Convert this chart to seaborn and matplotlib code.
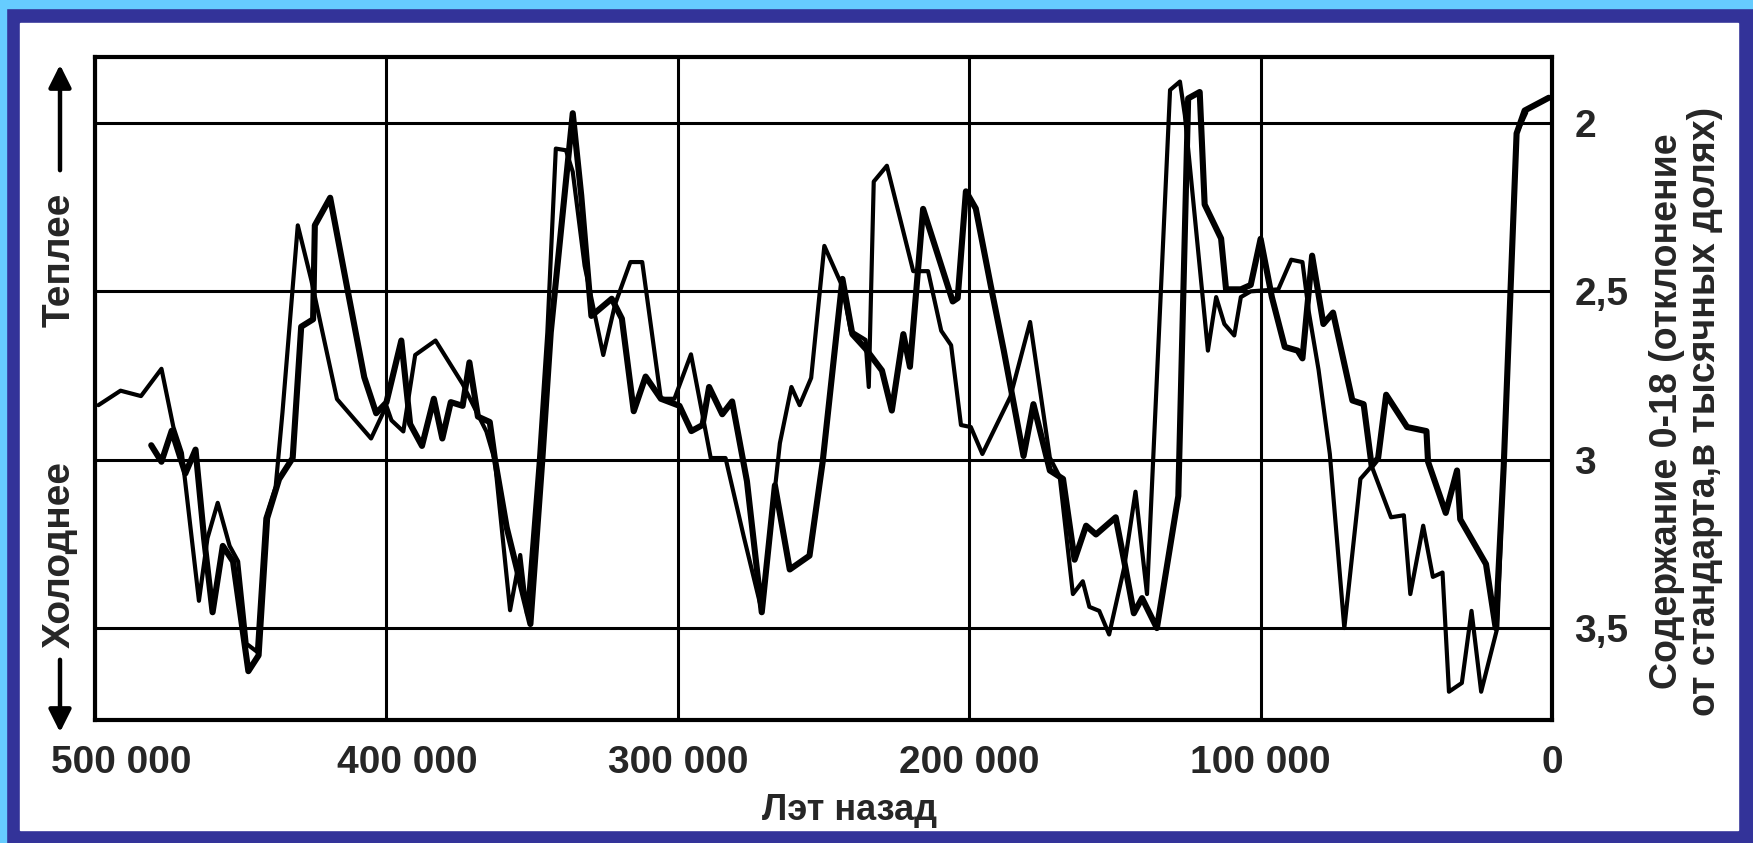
import matplotlib
matplotlib.use("Agg")
import matplotlib.pyplot as plt
import matplotlib.patches as mpatches
import matplotlib.transforms as mtransforms
import pandas as pd
import seaborn as sns

W, H = 1753, 843

# thin curve: years ago / O-18 value
thin_years = [498830, 491230, 484210, 477190, 473100, 470180, 464330, 461400, 457890, 453800,
              450880, 447950, 444440, 441520, 438010, 435670, 430410, 425730, 422220, 416960,
              405260, 400000, 398260, 394190, 390120, 383140, 373840, 365700, 362790, 357560,
              354070, 351740, 347670, 344770, 341860, 338370, 336050, 331980, 325580, 321510,
              316280, 312210, 305810, 301160, 295480, 288700, 283620, 277400, 271190, 264970,
              261010, 258190, 254230, 249710, 243500, 240680, 235590, 234460, 232760, 228250,
              219210, 214120, 209600, 206210, 202820, 199440, 195480, 185880, 179100, 172320,
              168930, 164410, 161020, 158760, 155370, 151980, 146890, 142930, 138980, 131070,
              127680, 125990, 118080, 115250, 112430, 109040, 106780, 103390, 93920, 89500,
              85640, 83420, 80110, 76240, 71270, 65750, 61880, 55250, 50830, 48620,
              44200, 40880, 37570, 35360, 30940, 27620, 24310, 18780, 12150, 8840]
thin_o18 = [2.838, 2.795, 2.811, 2.730, 2.903, 2.980, 3.419, 3.233, 3.128, 3.256,
            3.302, 3.547, 3.570, 3.174, 3.081, 2.860, 2.304, 2.468, 2.610, 2.820,
            2.937, 2.840, 2.883, 2.916, 2.689, 2.646, 2.775, 2.916, 3.002, 3.447,
            3.283, 3.458, 3.002, 2.622, 2.076, 2.081, 2.145, 2.424, 2.689, 2.538,
            2.413, 2.413, 2.819, 2.819, 2.687, 2.995, 2.995, 3.227, 3.448, 2.951,
            2.784, 2.838, 2.757, 2.365, 2.486, 2.617, 2.644, 2.784, 2.174, 2.127,
            2.440, 2.440, 2.617, 2.660, 2.897, 2.903, 2.983, 2.813, 2.591, 2.994,
            3.051, 3.399, 3.361, 3.437, 3.449, 3.519, 3.323, 3.095, 3.399, 1.902,
            1.877, 1.977, 2.676, 2.517, 2.597, 2.631, 2.517, 2.500, 2.494, 2.406,
            2.413, 2.563, 2.733, 2.983, 3.500, 3.057, 3.019, 3.171, 3.165, 3.399,
            3.196, 3.348, 3.335, 3.689, 3.663, 3.449, 3.689, 3.500, 2.031, 1.969]

# thick curve
thick_years = [480700, 477190, 473680, 469000, 465500, 462570, 459650, 456140, 452630, 447370,
               443860, 440930, 436840, 432160, 429240, 425150, 424560, 419300, 413450, 407600,
               403510, 400000, 394880, 391860, 387790, 383720, 380810, 377910, 373840, 371510,
               368600, 364530, 362790, 358720, 350580, 346510, 343600, 336050, 333140, 329650,
               322670, 319190, 315120, 311050, 305810, 299420, 295350, 291520, 289260, 284740,
               281350, 276270, 271190, 266670, 261580, 254800, 250280, 243500, 240110, 235590,
               229940, 226550, 222600, 220340, 215820, 205650, 203950, 201130, 197740, 192650,
               188130, 181350, 177960, 172320, 167800, 163840, 159880, 156490, 149720, 146330,
               143500, 140680, 135590, 128240, 124860, 120900, 119200, 113560, 111860, 106780,
               103390, 100000, 96130, 91710, 87290, 85640, 82320, 78450, 75140, 68510,
               64640, 61880, 59670, 56910, 49720, 43090, 42540, 36460, 32590, 31490,
               22650, 19330, 16570, 12150, 9390, 1100]
thick_o18 = [2.957, 3.006, 2.914, 3.041, 2.970, 3.233, 3.453, 3.256, 3.302, 3.628,
             3.581, 3.174, 3.058, 2.995, 2.605, 2.583, 2.304, 2.222, 2.490, 2.755,
             2.862, 2.830, 2.646, 2.894, 2.959, 2.819, 2.937, 2.829, 2.840, 2.711,
             2.872, 2.888, 2.997, 3.201, 3.488, 3.002, 2.622, 1.971, 2.215, 2.573,
             2.522, 2.581, 2.856, 2.753, 2.819, 2.840, 2.915, 2.897, 2.784, 2.865,
             2.827, 3.064, 3.453, 3.076, 3.326, 3.285, 3.006, 2.463, 2.627, 2.670,
             2.735, 2.854, 2.627, 2.724, 2.255, 2.530, 2.520, 2.203, 2.254, 2.481,
             2.676, 2.989, 2.835, 3.032, 3.057, 3.297, 3.196, 3.222, 3.171, 3.323,
             3.456, 3.411, 3.500, 3.108, 1.927, 1.908, 2.242, 2.343, 2.494, 2.494,
             2.481, 2.344, 2.517, 2.665, 2.676, 2.699, 2.394, 2.597, 2.563, 2.824,
             2.835, 3.019, 2.995, 2.807, 2.903, 2.915, 3.006, 3.158, 3.032, 3.177,
             3.310, 3.500, 3.019, 2.031, 1.963, 1.925]

x_ticks = [500000, 400000, 300000, 200000, 100000, 0]
x_tick_labels = ["500 000", "400 000", "300 000", "200 000", "100 000", "0"]
y_ticks = [2, 2.5, 3, 3.5]
y_tick_labels = ["2", "2,5", "3", "3,5"]

sns.set_style("white")
plt.rcParams['font.family'] = ['Liberation Sans', 'DejaVu Sans']

fig = plt.figure(figsize=(W / 100, H / 100), dpi=100)
fig.patch.set_facecolor('#333399')


def px_rect(x0, y0, x1, y1, color):
    # pixel box measured from the top-left corner of the picture
    r = mpatches.Rectangle((x0 / W, 1 - y1 / H), (x1 - x0) / W, (y1 - y0) / H,
                           transform=fig.transFigure, color=color, zorder=-10)
    fig.add_artist(r)


px_rect(0, 0, W, 8, '#66CCFF')
px_rect(0, 0, 6, H, '#66CCFF')
px_rect(20, 23, 1738, 830, 'white')

ax = fig.add_axes([95 / W, 1 - 720 / H, 1457 / W, 663 / H])
ax.set_facecolor('white')

thin = pd.DataFrame({'years': thin_years, 'o18': thin_o18})
thick = pd.DataFrame({'years': thick_years, 'o18': thick_o18})

sns.lineplot(data=thin, x='years', y='o18', ax=ax, color='black', lw=3.0,
             sort=False, estimator=None)
sns.lineplot(data=thick, x='years', y='o18', ax=ax, color='black', lw=4.4,
             sort=False, estimator=None)

ax.set_xlim(500000, 0)
ax.set_ylim(3.773, 1.804)
ax.set_xticks(x_ticks)
ax.set_xticklabels(x_tick_labels)
ax.set_yticks(y_ticks)
ax.set_yticklabels(y_tick_labels)
ax.yaxis.tick_right()
ax.tick_params(axis='both', length=0, labelsize=28)
ax.tick_params(axis='x', pad=18)
ax.tick_params(axis='y', pad=16)
for lab in ax.get_xticklabels() + ax.get_yticklabels():
    lab.set_fontweight('bold')

# first two year labels sit a bit right of their grid lines
for lab, dx in zip(ax.get_xticklabels()[:2], [26, 21]):
    lab.set_transform(lab.get_transform() +
                      mtransforms.ScaledTranslation(dx / 100, 0, fig.dpi_scale_trans))

ax.grid(True, color='black', lw=2.2)
for s in ax.spines.values():
    s.set_visible(True)
    s.set_color('black')
    s.set_linewidth(3.0)
ax.set_xlabel('')
ax.set_ylabel('')

# warmer / colder labels with arrows
fig.text(60 / W, 1 - 260 / H, 'Теплее', rotation=90, ha='center', va='center',
         fontsize=28, fontweight='bold')
fig.text(60 / W, 1 - 554 / H, 'Холоднее', rotation=90, ha='center', va='center',
         fontsize=28, fontweight='bold')
for y0, y1 in [(173, 62), (657, 735)]:
    fig.add_artist(mpatches.FancyArrowPatch((60 / W, 1 - y0 / H), (60 / W, 1 - y1 / H),
                                            transform=fig.transFigure, arrowstyle='-|>',
                                            mutation_scale=34, lw=3.2, color='black'))

fig.text(850 / W, 1 - 810 / H, 'Лэт назад', ha='center', va='center',
         fontsize=26, fontweight='bold')
fig.text(1686 / W, 1 - 411 / H,
         'Содержание 0-18 (отклонение\nот стандарта,в тысячных долях)',
         rotation=90, ha='center', va='center', multialignment='center',
         fontsize=27, fontweight='bold', linespacing=1.05)

fig.savefig('out.png', dpi=100)
